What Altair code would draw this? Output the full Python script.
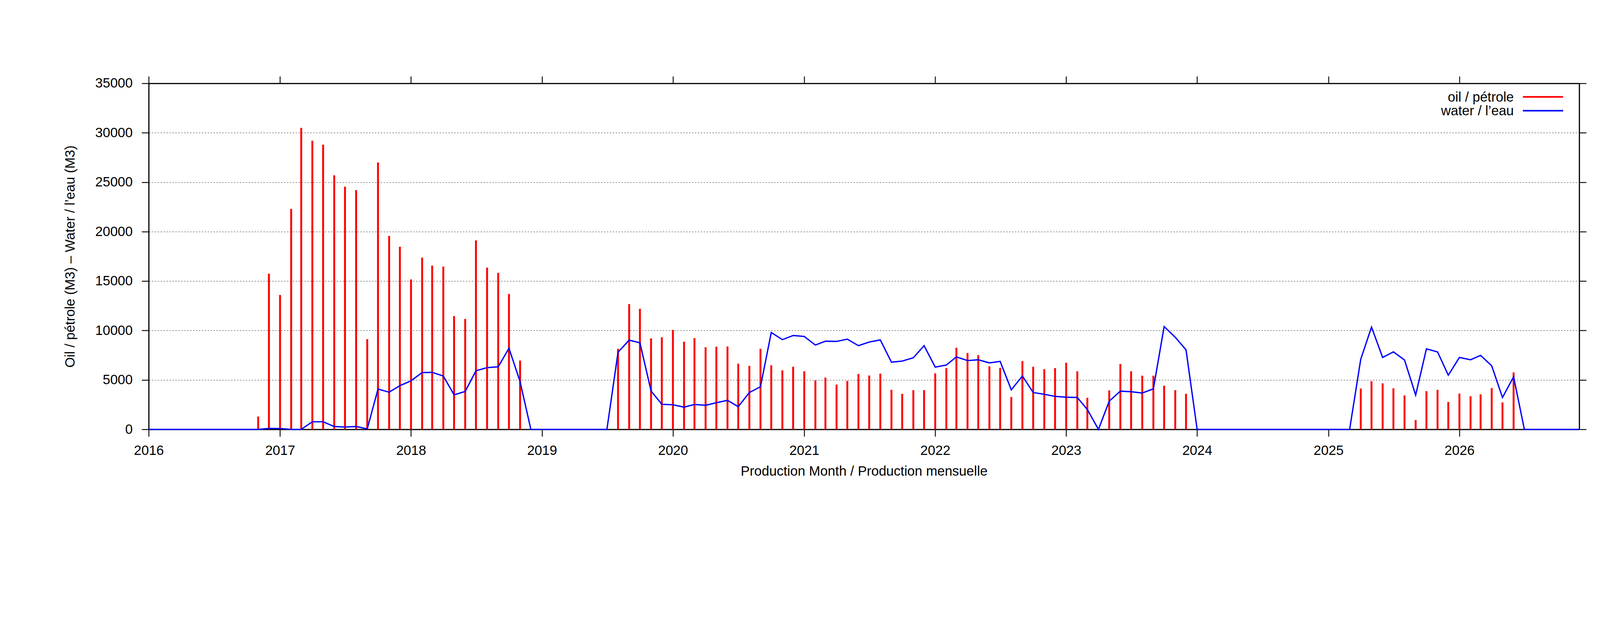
import altair as alt
import pandas as pd

# ---------------- data ----------------
years = [2016, 2017, 2018, 2019, 2020, 2021, 2022, 2023, 2024, 2025, 2026]
month_numbers = ["01", "02", "03", "04", "05", "06", "07", "08", "09", "10", "11", "12"]

oil_2016 = [0, 0, 0, 0, 0, 0, 0, 0, 0, 0, 1300, 15750]
oil_2017 = [13600, 22300, 30500, 29200, 28800, 25700, 24550, 24200, 9130, 27000, 19570, 18480]
oil_2018 = [15170, 17370, 16570, 16470, 11460, 11170, 19120, 16360, 15830, 13690, 6960, 0]
oil_2019 = [0, 0, 0, 0, 0, 0, 0, 8150, 12680, 12200, 9210, 9320]
oil_2020 = [10060, 8870, 9240, 8310, 8370, 8390, 6650, 6430, 8150, 6490, 5980, 6330]
oil_2021 = [5880, 4950, 5240, 4530, 4900, 5610, 5450, 5640, 4000, 3600, 3970, 3970]
oil_2022 = [5670, 6200, 8260, 7730, 7520, 6380, 6220, 3280, 6910, 6330, 6090, 6200]
oil_2023 = [6750, 5880, 3200, 0, 3950, 6620, 5880, 5430, 5430, 4420, 3970, 3600]
oil_2024 = [0, 0, 0, 0, 0, 0, 0, 0, 0, 0, 0, 0]
oil_2025 = [0, 0, 0, 4130, 4870, 4660, 4160, 3440, 950, 3870, 4000, 2780]
oil_2026 = [3630, 3360, 3550, 4180, 2730, 5770, 0, 0, 0, 0, 0, 0]

water_2016 = [0, 0, 0, 0, 0, 0, 0, 0, 0, 0, 0, 100]
water_2017 = [90, 0, 0, 770, 770, 290, 240, 290, 50, 4080, 3760, 4420]
water_2018 = [4920, 5750, 5770, 5400, 3500, 3840, 5930, 6250, 6330, 8210, 4820, 0]
water_2019 = [0, 0, 0, 0, 0, 0, 0, 7810, 9030, 8760, 3890, 2540]
water_2020 = [2490, 2250, 2520, 2440, 2700, 2940, 2300, 3730, 4320, 9800, 9080, 9500]
water_2021 = [9400, 8530, 8920, 8900, 9130, 8470, 8840, 9050, 6800, 6910, 7250, 8470]
water_2022 = [6300, 6510, 7330, 6960, 7040, 6730, 6880, 4000, 5400, 3730, 3550, 3340]
water_2023 = [3260, 3230, 2010, 0, 2860, 3870, 3810, 3680, 4100, 10400, 9320, 8050]
water_2024 = [0, 0, 0, 0, 0, 0, 0, 0, 0, 0, 0, 0]
water_2025 = [0, 0, 0, 7100, 10350, 7280, 7840, 7020, 3470, 8150, 7840, 5480]
water_2026 = [7280, 7040, 7490, 6430, 3230, 5320, 0, 0, 0, 0, 0, 0]

y_ticks = [0, 5000, 10000, 15000, 20000, 25000, 30000, 35000]
series_names = ["oil / pétrole", "water / l’eau"]
x_title = "Production Month / Production mensuelle"
y_title = "Oil / pétrole (M3)  –  Water / l’eau (M3)"

oil = (oil_2016 + oil_2017 + oil_2018 + oil_2019 + oil_2020 + oil_2021
       + oil_2022 + oil_2023 + oil_2024 + oil_2025 + oil_2026)
water = (water_2016 + water_2017 + water_2018 + water_2019 + water_2020 + water_2021
         + water_2022 + water_2023 + water_2024 + water_2025 + water_2026)
months = [f"{y}-{m}-01" for y in years for m in month_numbers]

df = pd.DataFrame({"month": months, "oil": oil, "water": water})

# ---------------- styling ----------------
FONT = "Liberation Sans"
FS = 46
W, H = 4873, 1178

xscale = alt.Scale(
    type="utc",
    domain=[alt.DateTime(year=2016, month=1, date=1, utc=True),
            alt.DateTime(year=2026, month=12, date=1, utc=True)],
)
yscale = alt.Scale(domain=[0, 35000], nice=False, zero=True)
year_values = [alt.DateTime(year=y, month=1, date=1, utc=True) for y in years]

common = dict(domainColor="black", domainWidth=4, tickColor="black", tickWidth=3,
              tickSize=24, labelFont=FONT, labelFontSize=FS, labelColor="black",
              titleFont=FONT, titleFontSize=FS, titleFontWeight="normal", titleColor="black")

bottom_axis = alt.Axis(orient="bottom", values=year_values, format="%Y", grid=False,
                       labelPadding=63, labelBaseline="alphabetic", labelFlush=False,
                       labelOverlap=False, title=x_title, titleY=157,
                       titleBaseline="alphabetic", **common)
top_axis = alt.Axis(orient="top", values=year_values, labels=False, grid=False,
                    title=None, **common)
left_axis = alt.Axis(orient="left", values=y_ticks, format="d", grid=True,
                     gridColor="black", gridWidth=1.2, gridDash=[5, 5], gridOpacity=0.9,
                     labelPadding=31, title=y_title, titleAngle=270, titleX=-253,
                     titleY=H / 2, titleAlign="center", titleBaseline="alphabetic", **common)
right_axis = alt.Axis(orient="right", values=y_ticks, labels=False, grid=False,
                      title=None, **common)

bars = alt.Chart(df).transform_filter("datum.oil > 0").mark_rule(
    color="#ff0000", strokeWidth=6.5
).encode(
    x=alt.X("month:T", scale=xscale, axis=bottom_axis),
    y=alt.Y("oil:Q", scale=yscale, axis=left_axis),
    y2=alt.datum(0),
)

line = alt.Chart(df).mark_line(color="#0000ff", strokeWidth=4.5).encode(
    x=alt.X("month:T", scale=xscale, axis=top_axis),
    y=alt.Y("water:Q", scale=yscale, axis=right_axis),
)

# legend (top-right, labels left of the line samples, as in gnuplot)
leg_oil_text = alt.Chart(alt.Data(values=[{"label": series_names[0]}])).mark_text(
    align="right", baseline="alphabetic", font=FONT, fontSize=FS, color="black"
).encode(x=alt.value(4650), y=alt.value(62), text="label:N")
leg_water_text = alt.Chart(alt.Data(values=[{"label": series_names[1]}])).mark_text(
    align="right", baseline="alphabetic", font=FONT, fontSize=FS, color="black"
).encode(x=alt.value(4650), y=alt.value(109), text="label:N")
leg_oil_line = alt.Chart(alt.Data(values=[{"label": series_names[0]}])).mark_rule(
    color="#ff0000", strokeWidth=5.5
).encode(x=alt.value(4681), x2=alt.value(4818), y=alt.value(46))
leg_water_line = alt.Chart(alt.Data(values=[{"label": series_names[1]}])).mark_rule(
    color="#0000ff", strokeWidth=5.5
).encode(x=alt.value(4681), x2=alt.value(4818), y=alt.value(93))

chart = alt.layer(
    bars, line, leg_oil_text, leg_water_text, leg_oil_line, leg_water_line
).resolve_axis(
    x="independent", y="independent"
).properties(
    width=W, height=H,
    padding={"left": 496, "top": 39, "right": 60, "bottom": 200},
    autosize=alt.AutoSizeParams(type="none"),
    background="white",
).configure_view(stroke=None)

chart.save("out.html", embed_options={"renderer": "svg", "actions": False})
